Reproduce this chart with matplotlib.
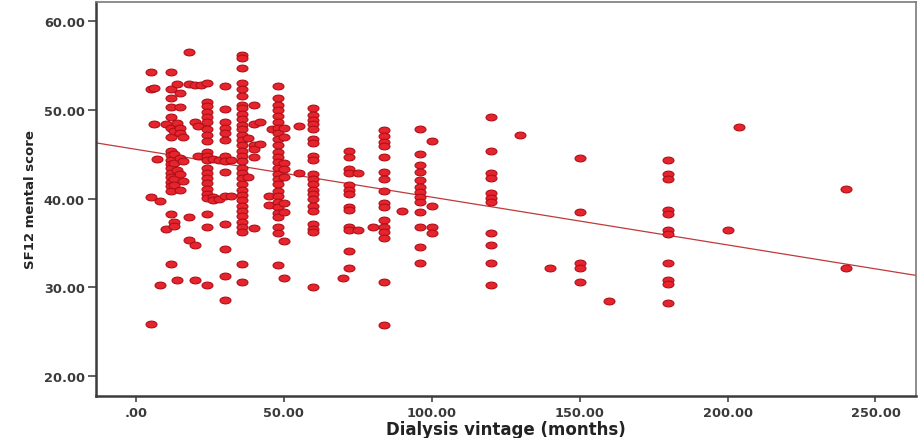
import matplotlib
matplotlib.use("Agg")
import matplotlib.pyplot as plt
import matplotlib.transforms as mtransforms
from matplotlib.path import Path
import numpy as np

# dialysis vintage (months) and the SF12 mental scores recorded at that vintage
vintage_months = [5, 6, 7, 8, 10, 12, 13, 14, 15, 16, 18, 20, 21, 22, 24, 26, 28,
                  30, 32, 36, 38, 40, 42, 45, 46, 48, 50, 55, 60, 70, 72, 75, 80,
                  84, 90, 96, 100, 120, 130, 140, 150, 160, 180, 200, 204, 240]
mental_scores = [
    [54.3, 52.4, 40.2, 25.8],
    [48.4, 52.5],
    [44.5],
    [39.7, 30.2],
    [48.4, 36.6],
    [54.3, 52.4, 51.4, 50.3, 49.2, 48.0, 47.0, 45.4, 44.9, 44.4, 43.9, 43.4,
     42.9, 42.4, 41.9, 41.4, 40.9, 38.3, 32.6],
    [47.6, 45.0, 44.0, 42.2, 41.5, 37.3, 36.9],
    [52.9, 48.5, 43.2, 30.75],
    [51.9, 50.3, 48.0, 47.4, 44.6, 42.8, 41.0],
    [47.0, 44.2, 42.0],
    [56.6, 52.9, 37.9, 35.3],
    [52.8, 48.7, 34.8, 30.75],
    [48.2, 44.8],
    [52.8],
    [53.0, 50.9, 50.4, 49.8, 49.2, 48.6, 47.9, 47.2, 46.5, 45.3, 44.8, 44.3,
     43.5, 42.9, 42.3, 41.7, 41.1, 40.5, 40.1, 38.2, 36.8, 30.2],
    [44.5, 40.2, 39.8],
    [44.4, 40.0],
    [52.75, 50.1, 48.6, 48.0, 47.4, 46.6, 44.8, 44.2, 43.0, 40.3, 37.1, 34.3,
     31.25, 28.5],
    [44.3, 40.3],
    [56.2, 55.9, 54.7, 53.1, 52.4, 51.6, 50.6, 50.2, 49.5, 49.0, 48.3, 47.8,
     47.2, 46.6, 46.0, 45.4, 44.8, 44.2, 43.5, 42.9, 42.3, 41.6, 41.0, 40.4,
     39.8, 39.2, 38.6, 38.0, 37.4, 36.8, 36.2, 32.6, 30.55],
    [46.8, 42.4],
    [50.6, 48.4, 46.0, 45.6, 44.7, 36.7],
    [48.6, 46.2],
    [40.3, 39.3],
    [47.8],
    [52.7, 51.3, 50.6, 50.0, 49.3, 48.7, 48.0, 47.4, 46.7, 46.0, 45.3, 44.7,
     44.1, 43.5, 42.8, 42.2, 41.6, 40.9, 40.3, 39.6, 39.0, 38.4, 37.9, 36.8,
     36.1, 32.55],
    [48.0, 47.0, 44.0, 43.3, 42.4, 39.5, 38.5, 35.2, 31.0],
    [48.2, 42.9],
    [50.2, 49.4, 48.9, 48.4, 47.9, 46.7, 46.3, 44.8, 44.3, 42.8, 42.2, 41.6,
     41.0, 40.5, 40.0, 39.2, 38.6, 37.1, 36.6, 36.2, 30.0],
    [31.0],
    [45.4, 44.7, 43.35, 42.9, 41.5, 41.0, 40.5, 39.0, 38.65, 36.8, 36.4, 34.1, 32.1],
    [42.9, 36.5],
    [36.8],
    [47.7, 47.1, 46.4, 45.9, 44.7, 43.0, 42.2, 40.8, 39.5, 39.0, 37.6, 36.8,
     36.2, 35.6, 30.6, 25.75],
    [38.6],
    [47.9, 45.0, 43.8, 43.0, 42.15, 41.3, 40.7, 40.15, 39.6, 38.5, 36.8, 34.5, 32.75],
    [46.5, 39.2, 36.8, 36.1],
    [49.2, 45.35, 42.9, 42.3, 40.6, 40.1, 39.6, 36.1, 34.7, 32.7, 30.25],
    [47.2],
    [32.2],
    [44.6, 38.45, 32.7, 32.15, 30.6],
    [28.45],
    [44.4, 42.8, 42.2, 38.65, 38.2, 36.5, 36.0, 32.75, 30.8, 30.4, 28.2],
    [36.45],
    [48.1],
    [41.1, 32.2],
]

# linear fit line: score = intercept + slope * months
fit_intercept = 45.56
fit_slope = -0.054

x_ticks = [0, 50, 100, 150, 200, 250]
x_ticklabels = [".00", "50.00", "100.00", "150.00", "200.00", "250.00"]
y_ticks = [20, 30, 40, 50, 60]
y_ticklabels = ["20.00", "30.00", "40.00", "50.00", "60.00"]

x = np.concatenate([[v] * len(s) for v, s in zip(vintage_months, mental_scores)])
y = np.concatenate(mental_scores)

fig = plt.figure(figsize=(9.18, 4.39), dpi=100)
ax = fig.add_axes([0.1046, 0.0957, 0.8932, 0.8975])

# flattened ellipse marker
oval = Path.unit_circle().transformed(mtransforms.Affine2D().scale(1.0, 0.62))
ax.scatter(x, y, marker=oval, s=62, facecolor="#e5242d", edgecolor="#b00f18",
           linewidths=0.8, zorder=3)

xl = np.array([-13.5, 263.7])
ax.plot(xl, fit_intercept + fit_slope * xl, color="#c0393b", lw=0.9, zorder=2)

ax.set_xlim(-13.5, 263.7)
ax.set_ylim(17.7, 62.2)

ax.set_xticks(x_ticks)
ax.set_xticklabels(x_ticklabels)
ax.set_yticks(y_ticks)
ax.set_yticklabels(y_ticklabels)

for lab in ax.get_xticklabels() + ax.get_yticklabels():
    lab.set_fontweight("bold")
    lab.set_fontsize(9.3)
    lab.set_color("#3a3a3a")

ax.tick_params(axis="y", direction="out", length=6, width=1.2, color="#444444", pad=2)
ax.tick_params(axis="x", direction="out", length=4, width=1.2, color="#444444", pad=3)

for side in ["left", "bottom"]:
    ax.spines[side].set_color("#3c3c3c")
    ax.spines[side].set_linewidth(1.8)
for side in ["top", "right"]:
    ax.spines[side].set_color("#7a7a7a")
    ax.spines[side].set_linewidth(1.2)

ax.set_xlabel("Dialysis vintage (months)", fontsize=12, fontweight="bold",
              color="#222222", labelpad=1)
ax.set_ylabel("SF12 mental score", fontsize=9.5, fontweight="bold", color="#222222",
              family=["Liberation Sans Narrow", "DejaVu Sans"], labelpad=5)

fig.savefig("out.png", dpi=100)
